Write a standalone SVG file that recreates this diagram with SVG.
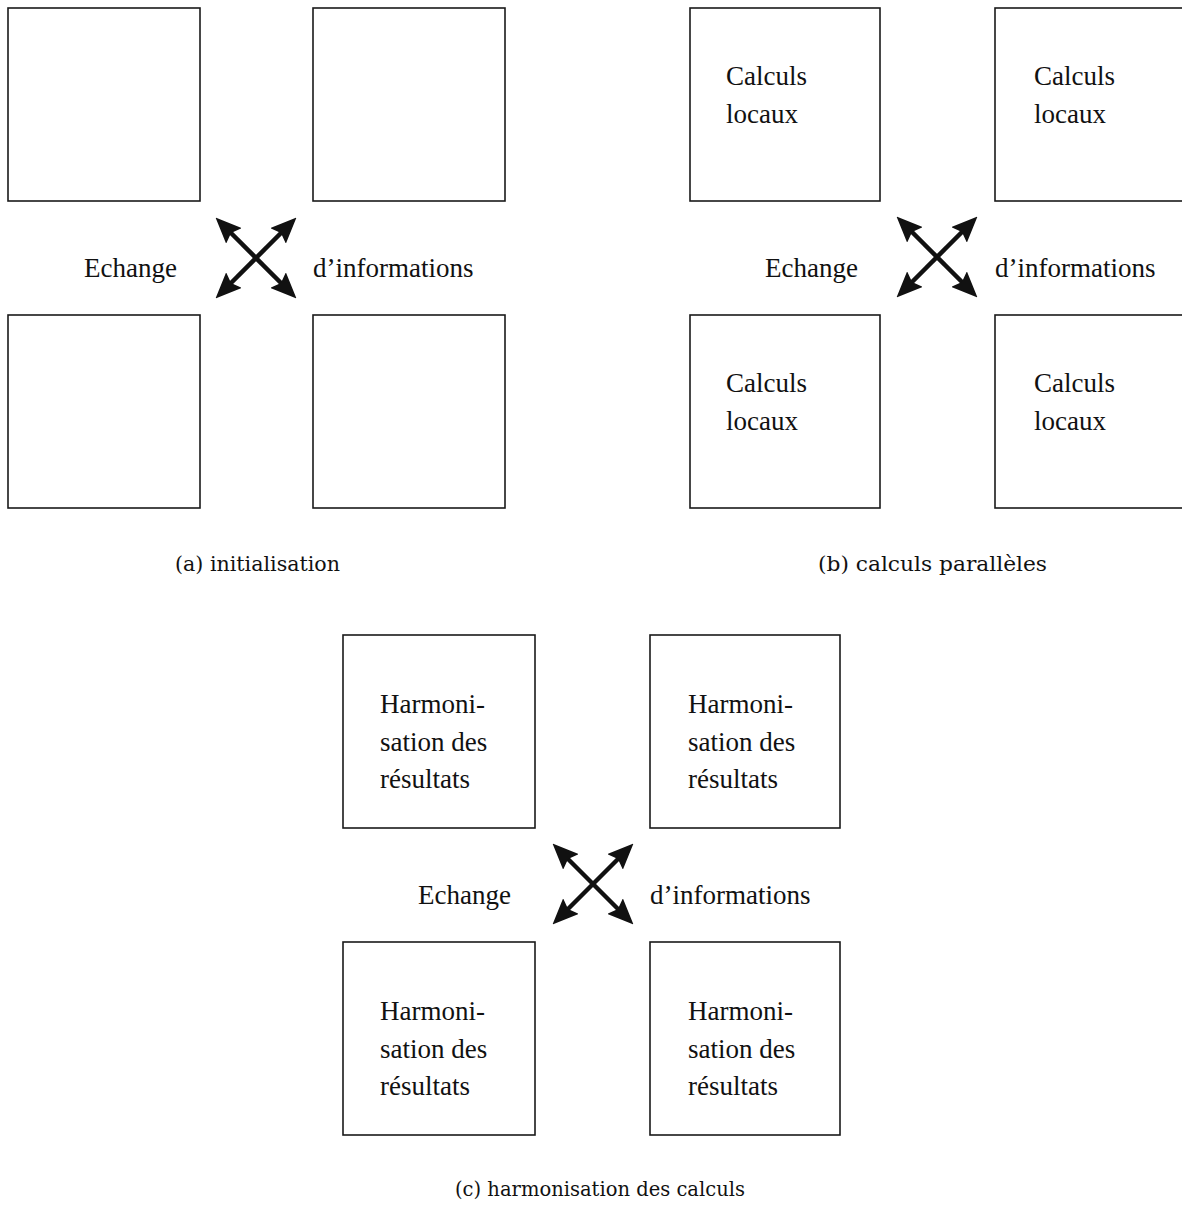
<svg xmlns="http://www.w3.org/2000/svg" width="1182" height="1208" viewBox="0 0 1182 1208">
<style>
.box{fill:none;stroke:#1a1a1a;stroke-width:1.6}
.t{font-family:"Liberation Serif","Times New Roman",serif;font-size:27px;fill:#111}
.cap{font-family:"DejaVu Serif","Liberation Serif",serif;font-size:20px;fill:#111}
.arr{stroke:#111;stroke-width:4.5;fill:none;marker-start:url(#ah);marker-end:url(#ah)}
</style>
<defs>
<marker id="ah" viewBox="0 0 26 22" markerUnits="userSpaceOnUse" markerWidth="26" markerHeight="22" refX="14" refY="11" orient="auto-start-reverse">
<path d="M0,0 L26,11 L0,22 L4,11 z" fill="#111"/>
</marker>
</defs>
<rect width="1182" height="1208" fill="#fff"/>
<g id="panel-a">
<g id="a-tl"><rect class="box" x="8" y="8" width="192" height="193"/></g>
<g id="a-tr"><rect class="box" x="313" y="8" width="192" height="193"/></g>
<g id="a-bl"><rect class="box" x="8" y="315" width="192" height="193"/></g>
<g id="a-br"><rect class="box" x="313" y="315" width="192" height="193"/></g>
<text class="t" x="84" y="277">Echange</text>
<text class="t" x="313" y="277">d’informations</text>
<text class="cap" x="175" y="571" textLength="165" lengthAdjust="spacingAndGlyphs">(a) initialisation</text>
</g>
<g id="panel-b">
<g id="b-tl"><rect class="box" x="690" y="8" width="190" height="193"/><text class="t" x="726" y="85">Calculs</text><text class="t" x="726" y="123">locaux</text></g>
<g id="b-tr"><rect class="box" x="995" y="8" width="192" height="193"/><text class="t" x="1034" y="85">Calculs</text><text class="t" x="1034" y="123">locaux</text></g>
<g id="b-bl"><rect class="box" x="690" y="315" width="190" height="193"/><text class="t" x="726" y="392">Calculs</text><text class="t" x="726" y="430">locaux</text></g>
<g id="b-br"><rect class="box" x="995" y="315" width="192" height="193"/><text class="t" x="1034" y="392">Calculs</text><text class="t" x="1034" y="430">locaux</text></g>
<text class="t" x="765" y="277">Echange</text>
<text class="t" x="995" y="277">d’informations</text>
<text class="cap" x="818" y="571" textLength="229" lengthAdjust="spacingAndGlyphs">(b) calculs parallèles</text>
</g>
<g id="panel-c">
<g id="c-tl"><rect class="box" x="343" y="635" width="192" height="193"/><text class="t" x="380" y="713">Harmoni-</text><text class="t" x="380" y="751">sation des</text><text class="t" x="380" y="788">résultats</text></g>
<g id="c-tr"><rect class="box" x="650" y="635" width="190" height="193"/><text class="t" x="688" y="713">Harmoni-</text><text class="t" x="688" y="751">sation des</text><text class="t" x="688" y="788">résultats</text></g>
<g id="c-bl"><rect class="box" x="343" y="942" width="192" height="193"/><text class="t" x="380" y="1020">Harmoni-</text><text class="t" x="380" y="1058">sation des</text><text class="t" x="380" y="1095">résultats</text></g>
<g id="c-br"><rect class="box" x="650" y="942" width="190" height="193"/><text class="t" x="688" y="1020">Harmoni-</text><text class="t" x="688" y="1058">sation des</text><text class="t" x="688" y="1095">résultats</text></g>
<text class="t" x="418" y="904">Echange</text>
<text class="t" x="650" y="904">d’informations</text>
<text class="cap" x="455" y="1196" textLength="290" lengthAdjust="spacingAndGlyphs">(c) harmonisation des calculs</text>
</g>
<g id="connectors">
<line class="arr" x1="224" y1="226" x2="288" y2="290"/>
<line class="arr" x1="288" y1="226" x2="224" y2="290"/>
<line class="arr" x1="905" y1="225" x2="969" y2="289"/>
<line class="arr" x1="969" y1="225" x2="905" y2="289"/>
<line class="arr" x1="561" y1="852" x2="625" y2="916"/>
<line class="arr" x1="625" y1="852" x2="561" y2="916"/>
</g>
</svg>
